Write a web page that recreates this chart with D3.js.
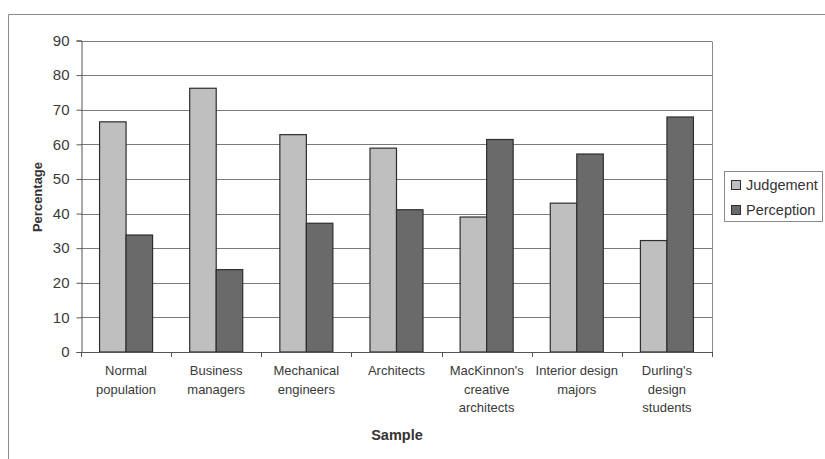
<!DOCTYPE html>
<html>
<head>
<meta charset="utf-8">
<script src="https://cdn.jsdelivr.net/npm/d3@7/dist/d3.min.js"></script>
<style>
  html, body { margin: 0; padding: 0; background: #fff; }
  svg { display: block; font-family: "Liberation Sans", Arial, sans-serif; }
</style>
</head>
<body>
<svg id="chart" width="825" height="459"></svg>
<script>
// Samples compared on the Judgement / Perception preference
const categories = [
  ["Normal", "population"],
  ["Business", "managers"],
  ["Mechanical", "engineers"],
  ["Architects"],
  ["MacKinnon's", "creative", "architects"],
  ["Interior design", "majors"],
  ["Durling's", "design", "students"]
];
const seriesNames = ["Judgement", "Perception"];
const judgement  = [66.5, 76.2, 62.8, 58.9, 39.0, 43.0, 32.2];
const perception = [33.8, 23.8, 37.2, 41.1, 61.4, 57.2, 67.9];
const yTicks = [0, 10, 20, 30, 40, 50, 60, 70, 80, 90];
const colors = ["#bfbfbf", "#6a6a6a"];

const svg = d3.select("#chart");
const plot = { left: 81, right: 712, top: 40.5, bottom: 352 };

// outer chart frame (top and left edges)
svg.append("path")
  .attr("d", "M8.5,459 V14.5 H825")
  .attr("fill", "none").attr("stroke", "#8a8a8a").attr("stroke-width", 1);

const keys = categories.map((c, i) => i);
const x0 = d3.scaleBand().domain(keys).range([plot.left, plot.right]).paddingInner(0).paddingOuter(0);
const x1 = d3.scaleBand().domain(seriesNames).range([0, x0.bandwidth()]).paddingInner(0).paddingOuter(0.7);
const y = d3.scaleLinear().domain([0, 90]).range([plot.bottom, plot.top]);

// horizontal gridlines
svg.append("g").selectAll("line").data(yTicks.filter(t => t > 0)).join("line")
  .attr("x1", plot.left).attr("x2", plot.right)
  .attr("y1", d => Math.round(y(d)) + 0.5).attr("y2", d => Math.round(y(d)) + 0.5)
  .attr("stroke", "#7a7a7a").attr("stroke-width", 1);

// right edge of plot area
svg.append("line")
  .attr("x1", plot.right + 0.5).attr("x2", plot.right + 0.5)
  .attr("y1", Math.round(y(90)) + 0.5).attr("y2", plot.bottom)
  .attr("stroke", "#8a8a8a");

// bars
const rows = categories.map((c, i) => ({ i, vals: [judgement[i], perception[i]] }));
const groups = svg.append("g").selectAll("g").data(rows).join("g")
  .attr("transform", d => `translate(${x0(d.i)},0)`);
groups.selectAll("rect").data(d => d.vals.map((v, k) => ({ k, v }))).join("rect")
  .attr("x", d => x1(seriesNames[d.k]))
  .attr("y", d => y(d.v))
  .attr("width", x1.bandwidth())
  .attr("height", d => y(0) - y(d.v))
  .attr("fill", d => colors[d.k])
  .attr("stroke", "#2e2e2e").attr("stroke-width", 1.2);

// y axis
const yAxis = svg.append("g")
  .attr("transform", `translate(${plot.left + 0.5},0)`)
  .call(d3.axisLeft(y).tickValues(yTicks).tickSize(5).tickPadding(7));
yAxis.select(".domain").attr("stroke", "#555");
yAxis.selectAll(".tick line").attr("stroke", "#555");
yAxis.selectAll(".tick text")
  .attr("font-size", 15).attr("fill", "#3a3a3a")
  .attr("font-family", "'Liberation Sans', Arial, sans-serif");

// x axis: ticks on category boundaries
const bounds = keys.map(k => x0(k)).concat([plot.right]);
svg.append("line")
  .attr("x1", plot.left).attr("x2", plot.right)
  .attr("y1", plot.bottom + 0.5).attr("y2", plot.bottom + 0.5)
  .attr("stroke", "#555");
svg.append("g").selectAll("line").data(bounds).join("line")
  .attr("x1", d => Math.round(d) + 0.5).attr("x2", d => Math.round(d) + 0.5)
  .attr("y1", plot.bottom).attr("y2", plot.bottom + 5)
  .attr("stroke", "#555");

// category labels
const labels = svg.append("g").selectAll("text").data(categories).join("text")
  .attr("x", (d, i) => x0(i) + x0.bandwidth() / 2)
  .attr("y", 375)
  .attr("text-anchor", "middle")
  .attr("font-size", 13).attr("fill", "#3a3a3a");
labels.selectAll("tspan").data(d => d).join("tspan")
  .attr("x", function () { return d3.select(this.parentNode).attr("x"); })
  .attr("dy", (d, j) => j === 0 ? 0 : 18.7)
  .text(d => d);

// axis titles
svg.append("text")
  .attr("x", 397).attr("y", 440)
  .attr("text-anchor", "middle")
  .attr("font-size", 14.5).attr("font-weight", "bold").attr("fill", "#333")
  .text("Sample");
svg.append("text")
  .attr("transform", "translate(42,197) rotate(-90)")
  .attr("text-anchor", "middle")
  .attr("font-size", 13).attr("font-weight", "bold").attr("fill", "#333")
  .text("Percentage");

// legend
const legend = svg.append("g");
legend.append("rect")
  .attr("x", 724.5).attr("y", 171.5).attr("width", 98).attr("height", 50)
  .attr("fill", "#fff").attr("stroke", "#8a8a8a");
const items = legend.selectAll("g").data(seriesNames).join("g")
  .attr("transform", (d, i) => `translate(0,${i * 25})`);
items.append("rect")
  .attr("x", 731.5).attr("y", 180.5).attr("width", 9).attr("height", 9)
  .attr("fill", (d, i) => colors[i]).attr("stroke", "#2e2e2e");
items.append("text")
  .attr("x", 746).attr("y", 190)
  .attr("font-size", 14.5).attr("fill", "#333")
  .text(d => d);
</script>
</body>
</html>
